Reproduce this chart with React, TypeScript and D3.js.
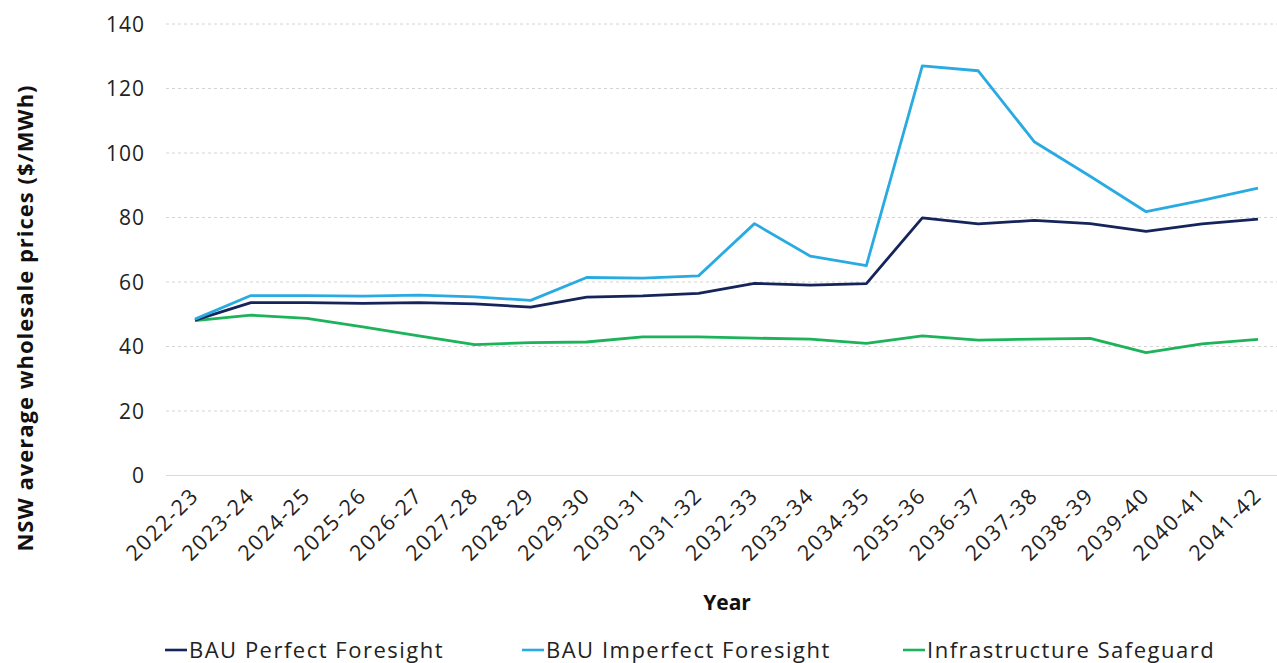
import * as d3 from "d3";
import { useEffect, useRef } from "react";

const years = [
  "2022-23", "2023-24", "2024-25", "2025-26", "2026-27", "2027-28", "2028-29",
  "2029-30", "2030-31", "2031-32", "2032-33", "2033-34", "2034-35", "2035-36",
  "2036-37", "2037-38", "2038-39", "2039-40", "2040-41", "2041-42",
];

const bauPerfect = [
  48.2, 53.6, 53.6, 53.4, 53.6, 53.2, 52.2, 55.3, 55.7, 56.5,
  59.6, 59.0, 59.5, 79.9, 78.0, 79.1, 78.1, 75.7, 78.0, 79.5,
];
const bauImperfect = [
  48.5, 55.8, 55.8, 55.6, 55.9, 55.4, 54.3, 61.4, 61.2, 61.9,
  78.1, 68.0, 65.1, 127.0, 125.5, 103.5, 92.8, 81.8, 85.3, 89.1,
];
const safeguard = [
  48.0, 49.7, 48.7, 46.1, 43.3, 40.6, 41.2, 41.4, 43.0, 43.0,
  42.6, 42.3, 41.0, 43.3, 42.0, 42.3, 42.5, 38.1, 40.8, 42.2,
];

const yTicks = [0, 20, 40, 60, 80, 100, 120, 140];

const seriesNames = ["BAU Perfect Foresight", "BAU Imperfect Foresight", "Infrastructure Safeguard"];
const seriesColors = ["#15245a", "#29abe2", "#1db35a"];

const App = () => {
  const ref = useRef<SVGSVGElement>(null);

  useEffect(() => {
    const svg = d3.select(ref.current);
    svg.selectAll("*").remove();
    const font = "'Open Sans', sans-serif";

    const x = d3.scalePoint().domain(years).range([195, 1258]);
    const y = d3.scaleLinear().domain([0, 140]).range([475.5, 24]);

    // grid
    svg.append("g")
      .selectAll("line")
      .data(yTicks.filter((d) => d > 0))
      .enter()
      .append("line")
      .attr("x1", 166)
      .attr("x2", 1277)
      .attr("y1", (d) => y(d))
      .attr("y2", (d) => y(d))
      .attr("stroke", "#d4d4d4")
      .attr("stroke-width", 1)
      .attr("stroke-dasharray", "3,3");

    svg.append("line")
      .attr("x1", 166).attr("x2", 1277)
      .attr("y1", y(0)).attr("y2", y(0))
      .attr("stroke", "#d9d9d9").attr("stroke-width", 1.2);

    // y tick labels
    svg.append("g")
      .selectAll("text")
      .data(yTicks)
      .enter()
      .append("text")
      .attr("x", 145)
      .attr("y", (d) => y(d) + 7.5)
      .attr("text-anchor", "end")
      .attr("font-family", font)
      .attr("font-size", 21)
      .attr("letter-spacing", 1)
      .attr("fill", "#222")
      .text((d) => d);

    // x tick labels
    svg.append("g")
      .selectAll("text")
      .data(years)
      .enter()
      .append("text")
      .attr("transform", (d) => `translate(${x(d)! + 5},${497}) rotate(-45)`)
      .attr("text-anchor", "end")
      .attr("font-family", font)
      .attr("font-size", 21.5)
      .attr("letter-spacing", 1.6)
      .attr("fill", "#222")
      .text((d) => d);

    // axis titles
    svg.append("text")
      .attr("transform", "translate(33,318) rotate(-90)")
      .attr("text-anchor", "middle")
      .attr("font-family", font)
      .attr("font-weight", 700)
      .attr("font-size", 22)
      .attr("letter-spacing", 1)
      .attr("fill", "#111")
      .text("NSW average wholesale prices ($/MWh)");

    svg.append("text")
      .attr("x", 727)
      .attr("y", 610)
      .attr("text-anchor", "middle")
      .attr("font-family", font)
      .attr("font-weight", 700)
      .attr("font-size", 21)
      .attr("fill", "#111")
      .text("Year");

    // lines
    const line = d3.line<number>()
      .x((_, i) => x(years[i])!)
      .y((d) => y(d));

    [safeguard, bauPerfect, bauImperfect].forEach((s, k) => {
      const idx = [2, 0, 1][k];
      svg.append("path")
        .datum(s)
        .attr("d", line)
        .attr("fill", "none")
        .attr("stroke", seriesColors[idx])
        .attr("stroke-width", 2.8)
        .attr("stroke-linejoin", "round");
    });

    // legend
    const legendX = [165, 522, 903];
    const lg = svg.append("g");
    seriesNames.forEach((name, i) => {
      lg.append("line")
        .attr("x1", legendX[i]).attr("x2", legendX[i] + 22)
        .attr("y1", 650).attr("y2", 650)
        .attr("stroke", seriesColors[i]).attr("stroke-width", 2.6);
      lg.append("text")
        .attr("x", legendX[i] + 24)
        .attr("y", 657.5)
        .attr("font-family", font)
        .attr("font-size", 22)
        .attr("letter-spacing", 1.5)
        .attr("fill", "#222")
        .text(name);
    });
  }, []);

  return (
    <svg
      ref={ref}
      width={1277}
      height={663}
      style={{ position: "absolute", left: 0, top: 0, background: "#fff" }}
    />
  );
};

export default App;
